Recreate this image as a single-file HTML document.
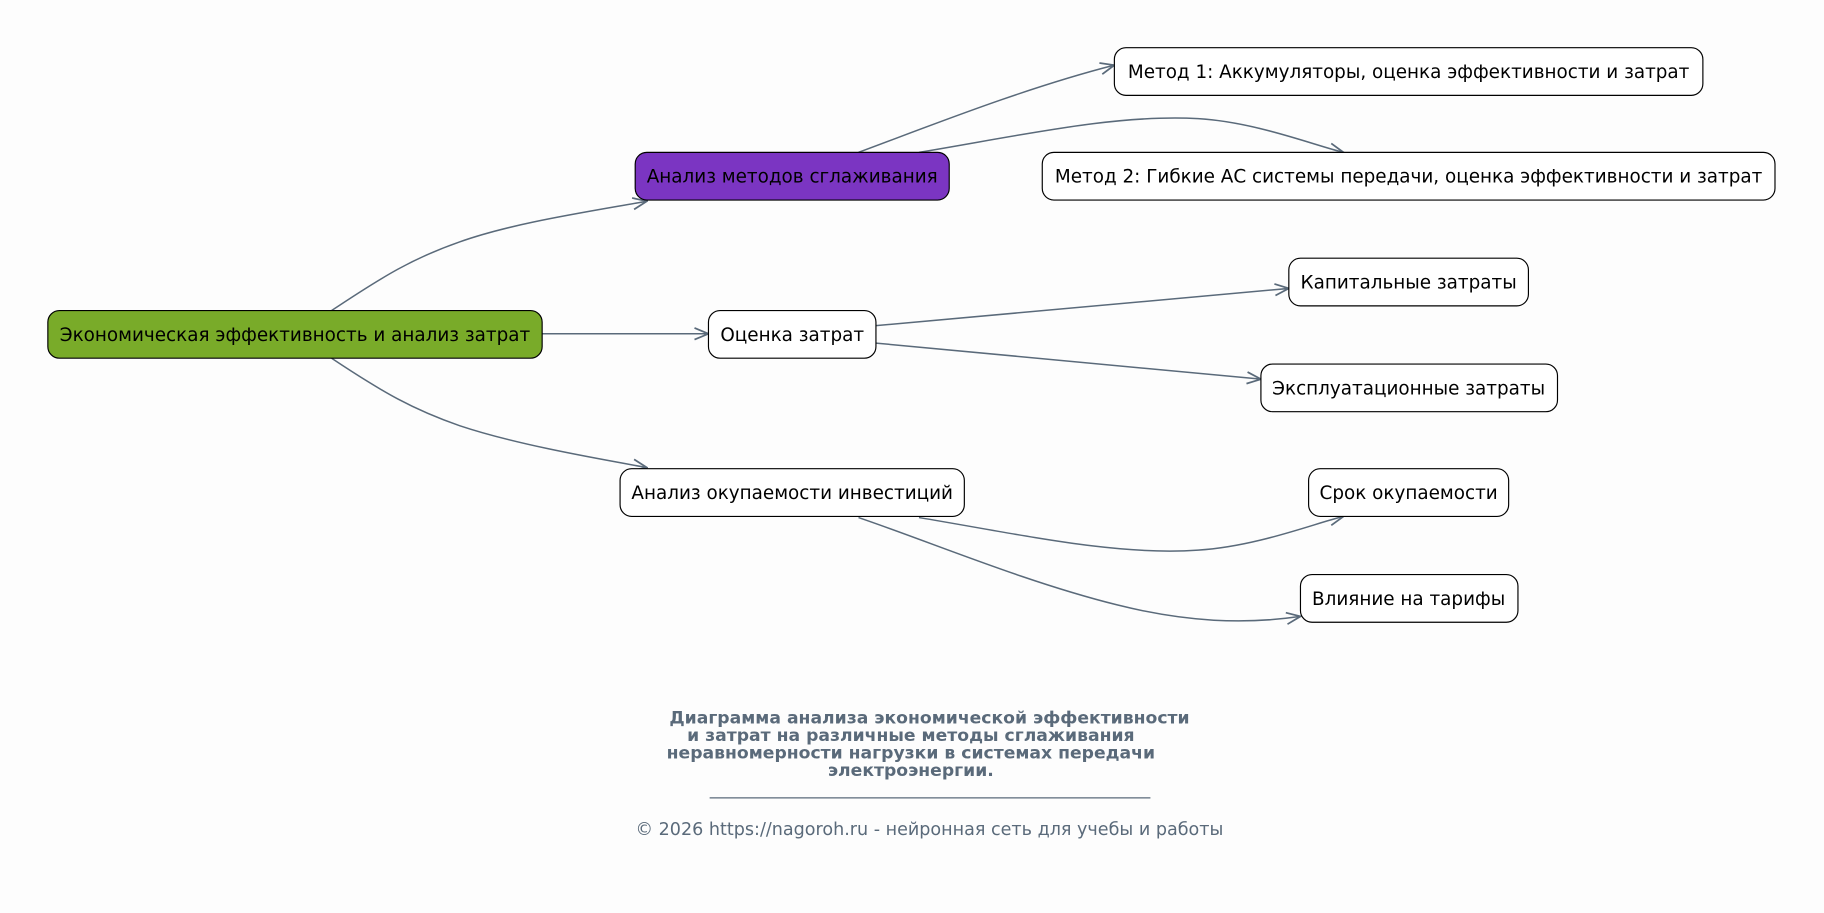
<!DOCTYPE html>
<html><head><meta charset="utf-8"><style>
html,body{margin:0;padding:0;background:#fdfdfd;}
svg{display:block}
text{font-family:"DejaVu Sans","Liberation Sans",sans-serif;}
</style></head><body>
<svg width="1824" height="913" viewBox="0 0 1568 785" xmlns="http://www.w3.org/2000/svg">
<defs><marker id="a" markerWidth="14" markerHeight="12" refX="13" refY="6" orient="auto" markerUnits="userSpaceOnUse"><path d="M1,1 L13,6 L1,11" fill="none" stroke="#5a6a7a" stroke-width="1.5"/></marker></defs>
<rect width="1568" height="785" fill="#fdfdfd"/>
<g fill="none" stroke="#5a6a7a" stroke-width="1.3" marker-end="url(#a)">
<path d="M285,267 C330,237 355,222 395,208 C440,192 500,183 556,173"/>
<path d="M466,287 L609,287"/>
<path d="M285,308 C330,338 355,352 395,366 C440,381 500,392 556,402"/>
<path d="M738,131 C800,108 880,76 958,56"/>
<path d="M790,131 C880,116 960,98 1030,102 C1080,105 1130,125 1155,131"/>
<path d="M753,280 L1108,248"/>
<path d="M753,295 L1084,326"/>
<path d="M790,445 C880,460 960,478 1030,473 C1080,470 1130,450 1155,444"/>
<path d="M738,445 C800,466 880,500 960,520 C1020,535 1070,537 1118,530"/>
</g>
<g stroke="#000" stroke-width="1">
<rect x="41" y="267" width="425" height="41" rx="10" fill="#79ab29"/>
<rect x="546" y="131" width="270" height="41" rx="10" fill="#7b35c2"/>
<rect x="609" y="267" width="144" height="41" rx="10" fill="#fff"/>
<rect x="533" y="403" width="296" height="41" rx="10" fill="#fff"/>
<rect x="958" y="41" width="506" height="41" rx="10" fill="#fff"/>
<rect x="896" y="131" width="630" height="41" rx="10" fill="#fff"/>
<rect x="1108" y="222" width="206" height="41" rx="10" fill="#fff"/>
<rect x="1084" y="313" width="255" height="41" rx="10" fill="#fff"/>
<rect x="1125" y="403" width="172" height="41" rx="10" fill="#fff"/>
<rect x="1118" y="494" width="187" height="41" rx="10" fill="#fff"/>
</g>
<g font-size="15.8" fill="#000" text-anchor="middle">
<text x="253.5" y="293">Экономическая эффективность и анализ затрат</text>
<text x="681" y="157">Анализ методов сглаживания</text>
<text x="681" y="293">Оценка затрат</text>
<text x="681" y="429">Анализ окупаемости инвестиций</text>
<text x="1211" y="67">Метод 1: Аккумуляторы, оценка эффективности и затрат</text>
<text x="1211" y="157">Метод 2: Гибкие АС системы передачи, оценка эффективности и затрат</text>
<text x="1211" y="248">Капитальные затраты</text>
<text x="1211" y="339">Эксплуатационные затраты</text>
<text x="1211" y="429">Срок окупаемости</text>
<text x="1211" y="520">Влияние на тарифы</text>
</g>
<g font-size="14.8" font-weight="bold" fill="#5a6a7a" text-anchor="middle">
<text x="799" y="622">Диаграмма анализа экономической эффективности</text>
<text x="783" y="637">и затрат на различные методы сглаживания</text>
<text x="783" y="652">неравномерности нагрузки в системах передачи</text>
<text x="783" y="667">электроэнергии.</text>
</g>
<line x1="610" y1="686" x2="989" y2="686" stroke="#5a6a7a" stroke-width="1"/>
<text x="799" y="718" font-size="15.1" fill="#5a6a7a" text-anchor="middle">© 2026 https://nagoroh.ru - нейронная сеть для учебы и работы</text>
</svg>
</body></html>
